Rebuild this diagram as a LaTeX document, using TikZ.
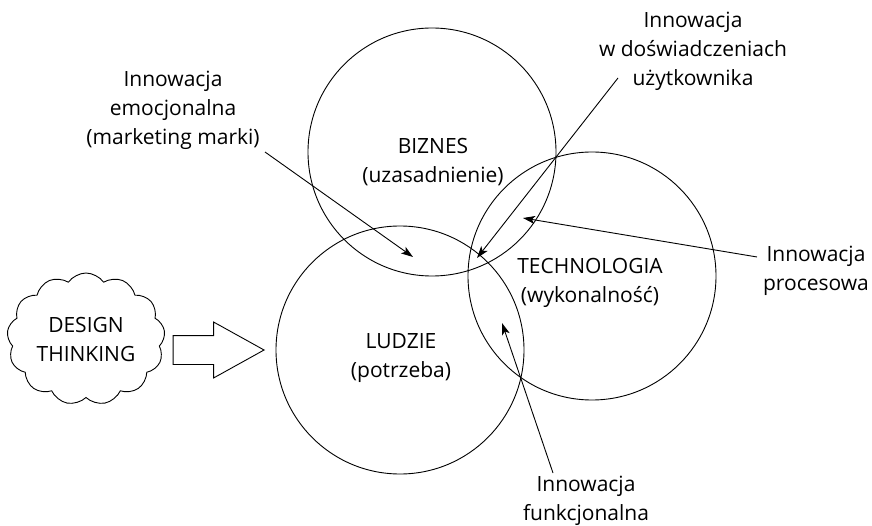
\documentclass[tikz,border=0pt]{standalone}
\usepackage{fontspec}
\setmainfont{Open Sans}
\usetikzlibrary{arrows.meta,shapes.symbols,shapes.arrows,positioning}
\tikzset{
  ring/.style={circle, draw, line width=0.9pt, minimum size=248pt, inner sep=0pt},
  caption/.style={align=center, inner sep=0pt},
  pointer/.style={line width=0.9pt, -{Stealth[length=12pt,width=8pt,inset=3pt]}},
}

\begin{document}
\begin{tikzpicture}[x=1pt, y=-1pt, font=\fontsize{21}{29}\selectfont]
    \useasboundingbox (0,0) rectangle (872,526);

    % three fields
    \node[ring] (biz) at (432,152) {};
    \node[ring] (tech) at (592,276) {};
    \node[ring] (ppl) at (400,350) {};
    \node[caption] (biztext) at (433,162) {BIZNES\\(uzasadnienie)};
    \node[caption] (techtext) at (590,283) {TECHNOLOGIA\\(wykonalność)};
    \node[caption] (ppltext) at (401,358) {LUDZIE\\(potrzeba)};

    % design thinking
    \node[cloud, draw, line width=0.9pt, cloud puffs=13, cloud puff arc=110, aspect=1.2,
          minimum width=158pt, minimum height=132pt, inner sep=0pt, align=center]
          (dt) at (86,339) {DESIGN\\THINKING};
    \node[single arrow, draw, line width=0.9pt, minimum height=91pt, minimum width=55pt,
          single arrow head extend=13.5pt, single arrow tip angle=58, inner sep=14pt,
          anchor=tip] (push) at (265,350) {};

    % kinds of innovation
    \node[caption] (emo) at (173,110) {Innowacja\\emocjonalna\\(marketing marki)};
    \node[caption] (ux) at (693,51) {Innowacja\\w doświadczeniach\\użytkownika};
    \node[caption] (proc) at (816,271) {Innowacja\\procesowa};
    \node[caption] (func) at (586,501) {Innowacja\\funkcjonalna};

    \coordinate (emo-tail) at (265,152);
    \coordinate (emo-tip) at (413,257);
    \coordinate (ux-tail) at (618,78);
    \coordinate (ux-tip) at (477,258);
    \coordinate (proc-tail) at (757,257);
    \coordinate (proc-tip) at (523,218);
    \coordinate (func-tail) at (553,473);
    \coordinate (func-tip) at (502,323);

    \path[pointer] (emo-tail) edge (emo-tip)
                   (ux-tail) edge (ux-tip)
                   (proc-tail) edge (proc-tip)
                   (func-tail) edge (func-tip);
\end{tikzpicture}
\end{document}
